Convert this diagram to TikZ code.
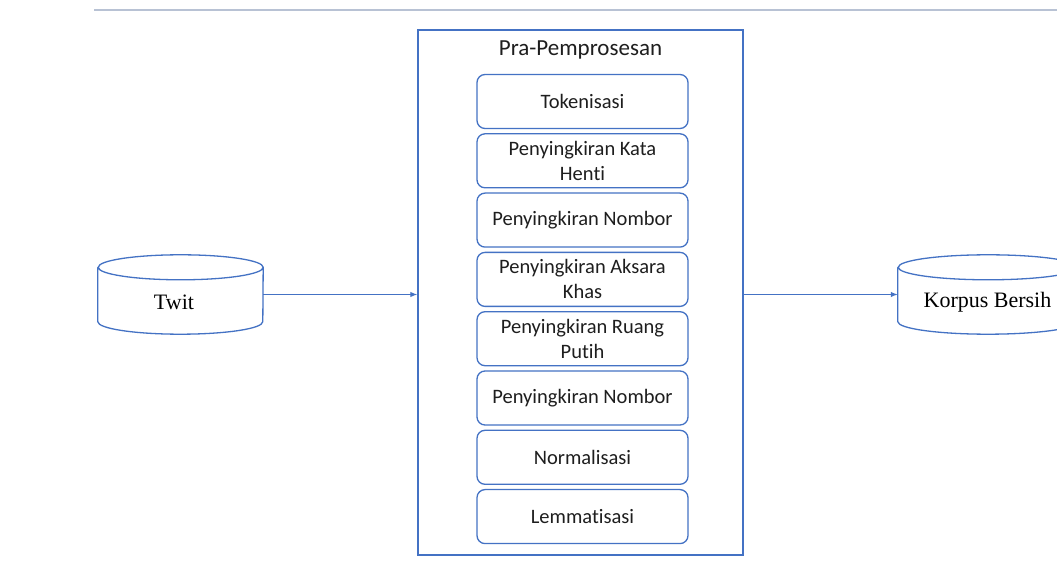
\documentclass[tikz,border=0pt]{standalone}
\usepackage{fontspec}
\setmainfont{Carlito}[Ligatures=CommonOff]
\newfontfamily\dbfont{Liberation Serif}
\usetikzlibrary{arrows.meta}

\definecolor{lineblue}{HTML}{4472C4}
\definecolor{rulegrey}{HTML}{B8C2D4}
\definecolor{textgrey}{HTML}{1E1E1E}

\tikzset{
  stage/.style={draw=lineblue, line width=1.3pt, rounded corners=8pt,
    minimum width=211pt, minimum height=54pt, align=center,
    text=textgrey, font=\fontsize{20.5}{25}\selectfont},
  dbbody/.style={minimum width=#1, minimum height=79pt, inner sep=0pt},
  dbtext/.style={font=\dbfont\fontsize{22}{24}\selectfont},
  flow/.style={draw=lineblue, line width=1.2pt, -{Latex[length=7pt,width=5.5pt]}}
}

% cylinder outline round a named node
\newcommand{\dbdraw}[2]{%
  \draw[lineblue, line width=1.3pt]
    ([yshift=-12.5pt]#1.north west) -- ([yshift=12.5pt]#1.south west)
    arc[start angle=180, end angle=360, x radius=#2, y radius=12.5pt]
    -- ([yshift=-12.5pt]#1.north east)
    arc[start angle=0, end angle=360, x radius=#2, y radius=12.5pt];}

\begin{document}
\begin{tikzpicture}[x=1pt,y=1pt]
  \path[use as bounding box, clip] (0,0) rectangle (1057,562);
  \fill[white] (0,0) rectangle (1057,562);

  % rule at the top
  \coordinate (ruleA) at (94,552);
  \coordinate (ruleB) at (1057,552);
  \draw[rulegrey, line width=1.2pt] (ruleA) -- (ruleB);

  % pre-processing block
  \node[draw=lineblue, line width=1.3pt, minimum width=325pt, minimum height=525pt]
    (pra) at (580.5,269.5) {};
  \node[text=textgrey, font=\fontsize{23}{26}\selectfont] (title) at (580.5,512) {Pra-Pemprosesan};
  \foreach \t [count=\i] in {Tokenisasi, {Penyingkiran Kata\\Henti}, Penyingkiran Nombor,
      {Penyingkiran Aksara\\Khas}, {Penyingkiran Ruang\\Putih}, Penyingkiran Nombor,
      Normalisasi, Lemmatisasi}
    \node[stage] (s\i) at (582.5, 460.5-59.3*\i+59.3) {\t};

  % input
  \node[dbbody=165pt] (twit) at (180.5,267.5) {};
  \dbdraw{twit}{82.5pt}
  \node[dbtext] (twitlabel) at (174,260) {Twit};

  % output
  \node[dbbody=180pt] (korpus) at (988,267.5) {};
  \dbdraw{korpus}{90pt}
  \node[dbtext] (korpuslabel) at (987.5,260) {Korpus Bersih};

  % flow
  \draw[flow] (twit.east) -- (twit.east -| pra.west);
  \draw[flow] (pra.east |- korpus.west) -- (korpus.west);
\end{tikzpicture}
\end{document}
